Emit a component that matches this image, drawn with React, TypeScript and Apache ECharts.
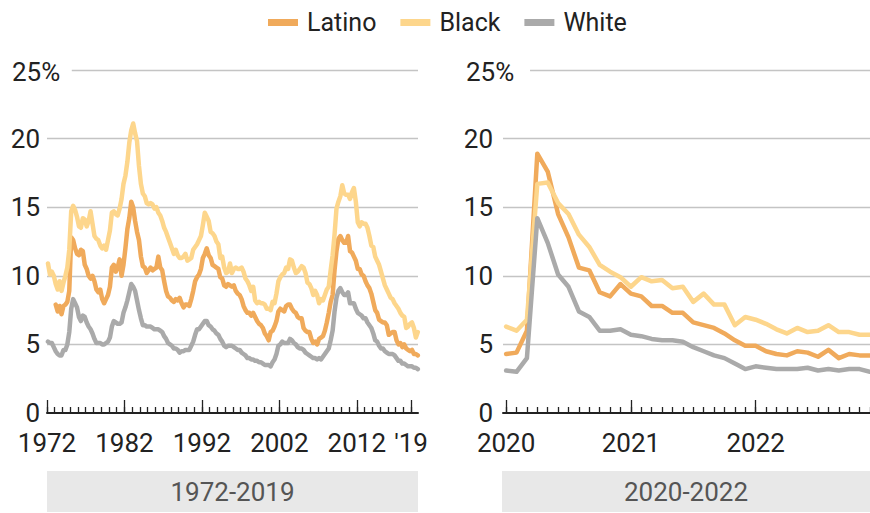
import React, { useEffect, useRef } from 'react';
import * as echarts from 'echarts';

const FONT = 'Roboto, "Noto Sans", sans-serif';

// ---------- Legend / series names ----------
const seriesNames = ['Latino', 'Black', 'White'];
const colors = { Latino: '#f0aa5b', Black: '#fdd68c', White: '#aaaaaa' };

// ---------- Left panel: 1972-2019, quarterly values (%) ----------
const leftStartYear = 1972;
const leftEndYear = 2019;
const leftMajorTicks = [1972, 1982, 1992, 2002, 2012, 2019];

const latinoQ = [
  null, null, null, null,
  7.9, 7.4, 7.8, 7.2,
  7.8, 7.9, 8.1, 8.9,
  12.8, 12.6, 12.0, 11.6,
  11.5, 11.9, 11.8, 10.8,
  10.5, 10.0, 9.8, 10.0,
  9.6, 9.0, 8.8, 9.0,
  8.3, 8.0, 8.3, 8.6,
  9.2, 10.6, 10.8, 10.3,
  10.6, 11.2, 10.0, 10.8,
  12.0, 13.4, 14.2, 15.4,
  15.0, 14.0, 13.2, 12.6,
  11.4, 10.7, 10.6, 10.2,
  10.4, 10.6, 10.4, 10.5,
  10.6, 11.4, 10.6, 10.4,
  9.6, 8.9, 8.5, 8.4,
  8.2, 8.1, 8.3, 8.2,
  8.4, 8.0, 7.7, 7.9,
  7.9, 7.8, 8.3, 8.9,
  9.6, 9.9, 10.1, 10.5,
  11.3, 11.6, 12.0, 11.5,
  11.3, 10.8, 10.7, 10.6,
  10.5, 9.9, 9.8, 9.3,
  9.2, 9.4, 9.3, 9.2,
  9.3, 8.9, 8.7, 8.6,
  8.3, 7.8, 7.5, 7.3,
  7.3, 7.1, 7.3, 7.0,
  6.7, 6.5, 6.4, 6.2,
  5.8, 5.6, 5.3, 5.9,
  6.0, 6.3, 6.7, 7.4,
  7.6, 7.5, 7.4, 7.8,
  7.9, 7.9, 7.6, 7.4,
  7.3, 7.0, 6.9, 6.9,
  6.2, 6.0, 5.9, 5.9,
  5.4, 5.1, 5.2, 5.0,
  5.4, 5.5, 5.6, 6.0,
  6.6, 7.3, 8.1, 8.6,
  10.4, 11.8, 12.7, 12.9,
  12.6, 12.4, 12.4, 12.9,
  11.8, 11.7, 11.4, 11.1,
  10.5, 10.5, 10.1, 10.0,
  9.6, 9.3, 9.1, 8.7,
  8.1, 7.5, 7.3, 6.8,
  6.7, 6.6, 6.6, 6.4,
  5.7, 5.8, 5.9, 5.9,
  5.3, 5.0, 5.1, 4.8,
  5.0, 4.7, 4.6, 4.5,
  4.6, 4.3, 4.3, 4.2,
];

const blackQ = [
  10.9, 10.1, 10.3, 10.0,
  9.4, 9.0, 9.6, 8.9,
  9.5, 10.0, 10.6, 11.9,
  14.7, 15.1, 14.8, 14.3,
  13.6, 13.5, 14.2, 14.1,
  13.6, 14.0, 14.7, 13.8,
  12.9, 12.7, 12.6, 12.2,
  12.0, 12.2, 11.9, 12.6,
  13.3, 14.6, 14.7, 14.5,
  14.4, 14.9, 15.6, 16.7,
  17.3, 18.3, 19.7, 20.6,
  21.1, 20.4, 19.8, 18.0,
  16.7, 16.0, 15.8, 15.3,
  15.2, 15.3, 15.2, 14.9,
  15.0, 14.6, 14.4, 14.0,
  13.5, 13.2, 12.8, 12.4,
  12.0, 11.6, 11.9, 11.5,
  11.3, 11.3, 11.4, 11.6,
  11.1, 11.2, 11.3, 11.9,
  12.1, 12.3, 12.6, 12.9,
  13.7, 14.6, 14.3, 14.0,
  13.2, 13.1, 12.9, 12.5,
  12.3, 11.3, 11.4, 10.6,
  10.2, 10.3, 10.9, 10.2,
  10.5, 10.6, 10.5, 10.5,
  10.6, 10.3, 9.8, 9.6,
  9.3, 8.9, 9.2, 8.2,
  8.0, 8.1, 8.0, 8.0,
  7.9, 7.6, 7.6, 7.5,
  8.1, 8.0, 8.7, 9.6,
  9.9, 10.1, 10.2, 10.6,
  10.5, 11.2, 11.1, 10.6,
  10.2, 10.3, 10.5, 10.7,
  10.6, 10.2, 9.5, 9.4,
  9.1, 8.6, 8.9, 8.6,
  8.0, 8.3, 8.2, 8.6,
  9.0, 9.2, 10.4, 11.5,
  13.0, 14.9, 15.4, 15.8,
  16.6, 16.0, 15.9, 15.9,
  15.6, 16.1, 16.4, 15.4,
  13.9, 13.6, 13.9, 13.8,
  13.8, 13.5, 12.9, 12.2,
  12.1, 11.4, 11.1, 10.8,
  10.3, 9.8, 9.3, 9.0,
  8.7, 8.4, 8.3, 8.0,
  7.8, 7.6, 7.3, 7.1,
  7.0, 6.2, 6.3, 6.5,
  6.6, 6.2, 5.5, 5.9,
];

const whiteQ = [
  5.2, 5.1, 5.1, 4.8,
  4.5, 4.3, 4.2, 4.2,
  4.6, 4.6, 5.0, 5.9,
  7.6, 8.3, 8.0, 7.7,
  7.0, 6.7, 7.1, 7.0,
  6.6, 6.3, 6.1, 5.8,
  5.4, 5.1, 5.1, 5.1,
  5.0, 5.0, 5.1, 5.2,
  5.5, 6.3, 6.7, 6.6,
  6.5, 6.5, 6.6, 7.3,
  7.7, 8.2, 8.8, 9.4,
  9.2, 8.9, 8.2, 7.5,
  6.9, 6.4, 6.4, 6.3,
  6.3, 6.3, 6.2, 6.1,
  6.1, 6.1, 6.0, 5.9,
  5.6, 5.4, 5.1, 5.0,
  4.9, 4.7, 4.7, 4.6,
  4.4, 4.5, 4.5, 4.6,
  4.6, 4.6, 4.9, 5.2,
  5.7, 6.1, 6.1, 6.3,
  6.5, 6.7, 6.7, 6.4,
  6.3, 6.1, 6.0, 5.8,
  5.7, 5.4, 5.2, 4.9,
  4.8, 4.9, 4.9, 4.9,
  4.8, 4.7, 4.6, 4.6,
  4.4, 4.3, 4.2, 4.0,
  4.0, 3.9, 3.9, 3.8,
  3.8, 3.7, 3.7, 3.6,
  3.5, 3.5, 3.5, 3.4,
  3.7, 3.9, 4.3, 4.9,
  5.0, 5.2, 5.1, 5.1,
  5.1, 5.4, 5.3, 5.1,
  5.0, 4.8, 4.7, 4.7,
  4.6, 4.4, 4.3, 4.2,
  4.1, 4.0, 4.0, 3.9,
  4.0, 3.9, 4.1, 4.3,
  4.5, 4.7, 5.3, 6.0,
  7.4, 8.4, 8.9, 9.1,
  8.8, 8.6, 8.6, 8.8,
  8.0, 8.0, 8.0, 7.6,
  7.3, 7.2, 7.1, 6.9,
  6.9, 6.6, 6.4, 6.2,
  5.8, 5.3, 5.2, 4.9,
  4.7, 4.7, 4.5, 4.4,
  4.3, 4.3, 4.3, 4.2,
  4.0, 3.8, 3.8, 3.6,
  3.6, 3.5, 3.4, 3.4,
  3.4, 3.3, 3.3, 3.2,
];

// ---------- Right panel: 2020-2022, monthly values (%) ----------
const rightStartYear = 2020;
const rightMajorYears = [2020, 2021, 2022];

const latinoM = [
  4.3, 4.4, 6.0, 18.9, 17.6, 14.5, 12.8, 10.6, 10.4, 8.8, 8.5, 9.4,
  8.7, 8.5, 7.8, 7.8, 7.3, 7.3, 6.6, 6.4, 6.2, 5.8, 5.3, 4.9,
  4.9, 4.5, 4.3, 4.2, 4.5, 4.4, 4.1, 4.6, 4.0, 4.3, 4.2, 4.2,
];
const blackM = [
  6.3, 6.0, 6.8, 16.7, 16.8, 15.3, 14.5, 13.0, 12.1, 10.8, 10.3, 9.9,
  9.2, 9.9, 9.6, 9.7, 9.1, 9.2, 8.1, 8.7, 7.9, 7.9, 6.4, 7.0,
  6.8, 6.5, 6.1, 5.8, 6.2, 5.9, 6.0, 6.4, 5.9, 5.9, 5.7, 5.7,
];
const whiteM = [
  3.1, 3.0, 4.0, 14.2, 12.4, 10.1, 9.2, 7.4, 7.0, 6.0, 6.0, 6.1,
  5.7, 5.6, 5.4, 5.3, 5.3, 5.2, 4.8, 4.5, 4.2, 4.0, 3.6, 3.2,
  3.4, 3.3, 3.2, 3.2, 3.2, 3.3, 3.1, 3.2, 3.1, 3.2, 3.2, 3.0,
];

const yTicks = [0, 5, 10, 15, 20, 25];
const panelLabels = ['1972-2019', '2020-2022'];

// ---------- derived x positions ----------
const leftTimes = latinoQ.map((_, i) => leftStartYear + Math.floor(i / 4) + (i % 4) * 0.25 + 0.125);
const leftMinorTicks: number[] = [];
for (let y = leftStartYear; y <= leftEndYear; y++) leftMinorTicks.push(y);
const rightMonths = latinoM.map((_, i) => i);
const rightMajorTicks = rightMajorYears.map((y) => (y - rightStartYear) * 12);

const pair = (xs: number[], ys: (number | null)[]) => xs.map((x, i) => [x, ys[i] === null ? '-' : ys[i]]);

const TEXT = '#222';
const GRID = '#c4c4c4';

function makeOption() {
  const tickStyle = { color: TEXT, width: 1.3 };
  const labelStyle = { fontSize: 26, color: TEXT, fontFamily: FONT };
  const xAxes: any[] = [
    {
      gridIndex: 0, type: 'value', position: 'bottom', min: leftStartYear, max: 2019.9, interval: 1,
      axisLine: { show: true, onZero: false, lineStyle: { color: TEXT, width: 2 } },
      axisTick: { show: true, inside: true, length: 6, lineStyle: tickStyle, customValues: leftMinorTicks },
      axisLabel: { show: false }, splitLine: { show: false },
    },
    {
      gridIndex: 0, type: 'value', position: 'bottom', min: leftStartYear, max: 2019.9, interval: 10,
      axisLine: { show: false, onZero: false },
      axisTick: { show: true, inside: true, length: 13, lineStyle: tickStyle, customValues: leftMajorTicks },
      axisLabel: {
        ...labelStyle, margin: 19, lineHeight: 22, customValues: leftMajorTicks,
        formatter: (v: number) => (v === 2019 ? "'19" : String(v)),
      },
      splitLine: { show: false },
    },
    {
      gridIndex: 1, type: 'value', position: 'bottom', min: -0.3, max: 35, interval: 1,
      axisLine: { show: true, onZero: false, lineStyle: { color: TEXT, width: 2 } },
      axisTick: { show: true, inside: true, length: 6, lineStyle: tickStyle, customValues: rightMonths },
      axisLabel: { show: false }, splitLine: { show: false },
    },
    {
      gridIndex: 1, type: 'value', position: 'bottom', min: -0.3, max: 35, interval: 12,
      axisLine: { show: false, onZero: false },
      axisTick: { show: true, inside: true, length: 13, lineStyle: tickStyle, customValues: rightMajorTicks },
      axisLabel: {
        ...labelStyle, margin: 19, lineHeight: 22, customValues: rightMajorTicks,
        formatter: (v: number) => String(rightStartYear + Math.round(v / 12)),
      },
      splitLine: { show: false },
    },
  ];
  const yAxis = [0, 1].map((g) => ({
    gridIndex: g, type: 'value', min: yTicks[0], max: yTicks[yTicks.length - 1], interval: 5,
    axisLine: { show: false }, axisTick: { show: false },
    axisLabel: {
      ...labelStyle, lineHeight: 22, align: 'right', margin: g === 0 ? 7 : 10,
      formatter: (v: number) => (v === 25 ? '' : String(v)),
    },
    splitLine: { show: true, showMaxLine: false, showMinLine: false, lineStyle: { color: GRID, width: 1.3 } },
  }));

  const lineSeries = (name: string, xi: number, yi: number, data: any[], mark?: any) => ({
    type: 'line', name, xAxisIndex: xi, yAxisIndex: yi, data,
    showSymbol: false, symbol: 'none', connectNulls: false,
    lineStyle: { width: 4.5, color: (colors as any)[name], join: 'round', cap: 'round' },
    itemStyle: { color: (colors as any)[name] },
    emphasis: { disabled: true },
    markLine: mark,
  });
  const gridMark = (x0: number, x1: number) => ({
    silent: true, symbol: ['none', 'none'], label: { show: false },
    lineStyle: { color: GRID, width: 1.3, type: 'solid' },
    emphasis: { disabled: true },
    data: [[{ coord: [x0, 25] }, { coord: [x1, 25] }]],
  });

  const series = [
    lineSeries('Latino', 0, 0, pair(leftTimes, latinoQ), gridMark(1975.2, 2019.9)),
    lineSeries('Black', 0, 0, pair(leftTimes, blackQ)),
    lineSeries('White', 0, 0, pair(leftTimes, whiteQ)),
    lineSeries('Latino', 2, 1, pair(rightMonths, latinoM), gridMark(2.3, 35)),
    lineSeries('Black', 2, 1, pair(rightMonths, blackM)),
    lineSeries('White', 2, 1, pair(rightMonths, whiteM)),
  ];

  const band = (x: number, w: number, label: string) => ([
    { type: 'rect', shape: { x, y: 471, width: w, height: 41 }, style: { fill: '#e8e8e8' } },
    {
      type: 'text', x: x + w / 2, y: 492,
      style: { text: label, fontSize: 26, fill: '#555', fontFamily: FONT, align: 'center', verticalAlign: 'middle' },
    },
  ]);

  return {
    animation: false,
    backgroundColor: '#fff',
    legend: {
      data: seriesNames, left: 263, top: 5, icon: 'rect', itemWidth: 30, itemHeight: 7, itemGap: 24,
      selectedMode: false,
      textStyle: { fontSize: 25, color: TEXT, fontFamily: FONT, padding: [0, 0, 0, 4] },
    },
    grid: [
      { left: 47, top: 70, width: 371, height: 343 },
      { left: 503, top: 70, width: 367, height: 343 },
    ],
    xAxis: xAxes,
    yAxis,
    series,
    graphic: [
      ...band(47, 371, panelLabels[0]),
      ...band(502, 368, panelLabels[1]),
      { type: 'text', x: 12, y: 72, style: { text: '25%', fontSize: 26, fill: TEXT, fontFamily: FONT, align: 'left', verticalAlign: 'middle' } },
      { type: 'text', x: 466, y: 72, style: { text: '25%', fontSize: 26, fill: TEXT, fontFamily: FONT, align: 'left', verticalAlign: 'middle' } },
    ],
  };
}

export default function App() {
  const ref = useRef<HTMLDivElement>(null);
  useEffect(() => {
    if (!ref.current) return;
    const chart = echarts.init(ref.current, null, { renderer: 'svg' });
    chart.setOption(makeOption() as any);
    return () => chart.dispose();
  }, []);
  return <div ref={ref} style={{ position: 'fixed', left: 0, top: 0, width: 870, height: 513 }} />;
}
